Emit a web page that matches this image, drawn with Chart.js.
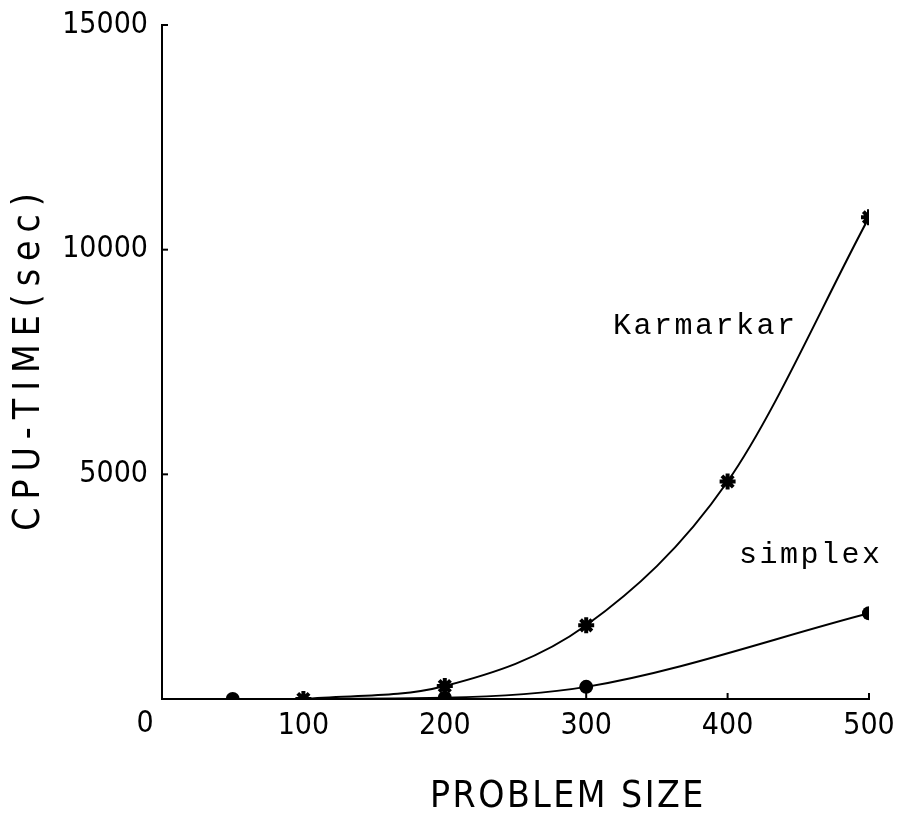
<!DOCTYPE html>
<html><head><meta charset="utf-8">
<script src="https://cdn.jsdelivr.net/npm/chart.js@4"></script>
<style>html,body{margin:0;padding:0;background:#fff}</style>
</head><body>
<canvas id="c" width="899" height="822"></canvas>
<script>
const karmarkarX = [100, 200, 300, 400, 500];
const karmarkarY = [0, 290, 1640, 4840, 10720];
const simplexX = [50, 200, 300, 500];
const simplexY = [0, 30, 270, 1910];
const xTicks = [0, 100, 200, 300, 400, 500];
const yTicks = [0, 5000, 10000, 15000];
const seriesNames = ['Karmarkar', 'simplex'];
const xTitle = 'PROBLEM SIZE';
const yTitle = 'CPU-TIME(sec)';
const labelPos = { Karmarkar: [319, 8130], simplex: [408, 3020] };

const NARROW = "'DejaVu Sans Condensed','Liberation Sans Narrow',sans-serif";

function spacedWidth(ctx, text, spacing) {
  let w = 0;
  for (const ch of text) w += ctx.measureText(ch).width + spacing;
  return w - spacing;
}
function spaced(ctx, text, x, y, spacing) {
  let cx = x;
  for (const ch of text) {
    ctx.fillText(ch, cx, y);
    cx += ctx.measureText(ch).width + spacing;
  }
}

const extras = {
  id: 'extras',
  afterDraw(chart) {
    const ctx = chart.ctx, xs = chart.scales.x, ys = chart.scales.y;
    ctx.save();
    ctx.strokeStyle = '#000';
    ctx.lineWidth = 2;
    xTicks.forEach(v => {
      if (v === 0) return;
      const px = xs.getPixelForValue(v);
      ctx.beginPath(); ctx.moveTo(px, ys.bottom); ctx.lineTo(px, ys.bottom - 6); ctx.stroke();
    });
    yTicks.forEach(v => {
      if (v === 0) return;
      const py = ys.getPixelForValue(v);
      ctx.beginPath(); ctx.moveTo(xs.left, py); ctx.lineTo(xs.left + 6, py); ctx.stroke();
    });
    ctx.fillStyle = '#000';
    ctx.font = '30px ' + NARROW;
    ctx.textAlign = 'center';
    ctx.textBaseline = 'middle';
    ctx.fillText('0', xs.getPixelForValue(0) - 17, 724);
    // x title
    ctx.font = '37px ' + NARROW;
    ctx.textAlign = 'left';
    ctx.textBaseline = 'middle';
    spaced(ctx, xTitle, 430, 797, 2.5);
    // y title, rotated
    const w = spacedWidth(ctx, yTitle, 8);
    ctx.save();
    ctx.translate(29, (ys.top + ys.bottom) / 2);
    ctx.rotate(-Math.PI / 2);
    spaced(ctx, yTitle, -w / 2, 0, 8);
    ctx.restore();
    // series labels
    ctx.font = '30px "Liberation Mono", monospace';
    ctx.textBaseline = 'alphabetic';
    seriesNames.forEach(n => {
      const [vx, vy] = labelPos[n];
      spaced(ctx, n, xs.getPixelForValue(vx), ys.getPixelForValue(vy), 2.5);
    });
    ctx.restore();
  }
};

new Chart(document.getElementById('c'), {
  type: 'scatter',
  data: {
    datasets: [
      {
        label: seriesNames[0],
        data: karmarkarX.map((x, i) => ({ x, y: karmarkarY[i] })),
        showLine: true,
        borderColor: '#000',
        borderWidth: 2,
        cubicInterpolationMode: 'monotone',
        pointStyle: 'star',
        pointRadius: 8,
        pointBorderWidth: 4,
        pointBorderColor: '#000',
        pointBackgroundColor: '#000'
      },
      {
        label: seriesNames[1],
        data: simplexX.map((x, i) => ({ x, y: simplexY[i] })),
        showLine: true,
        borderColor: '#000',
        borderWidth: 2,
        cubicInterpolationMode: 'monotone',
        pointStyle: 'circle',
        pointRadius: 7,
        pointBorderWidth: 0,
        pointBackgroundColor: '#000'
      }
    ]
  },
  options: {
    responsive: false,
    animation: false,
    layout: { padding: { left: 0, top: 25, right: 30, bottom: 0 } },
    plugins: { legend: { display: false }, tooltip: { enabled: false } },
    scales: {
      x: {
        type: 'linear', min: 0, max: 500,
        afterBuildTicks: s => { s.ticks = xTicks.map(v => ({ value: v })); },
        afterFit: s => { s.height = 123; s.paddingRight = 0; s.paddingLeft = 0; },
        grid: { display: false, drawTicks: false },
        border: { display: true, color: '#000', width: 2 },
        ticks: {
          color: '#000', padding: 9, maxRotation: 0,
          font: { size: 30, family: NARROW },
          callback: v => (v === 0 ? '' : String(v))
        }
      },
      y: {
        type: 'linear', min: 0, max: 15000,
        afterBuildTicks: s => { s.ticks = yTicks.map(v => ({ value: v })); },
        afterFit: s => { s.width = 162; s.paddingTop = 0; s.paddingBottom = 0; },
        grid: { display: false, drawTicks: false },
        border: { display: true, color: '#000', width: 2 },
        ticks: {
          color: '#000', padding: 14,
          font: { size: 30, family: NARROW },
          callback: v => (v === 0 ? '' : String(v))
        }
      }
    }
  },
  plugins: [extras]
});
</script>
</body></html>
